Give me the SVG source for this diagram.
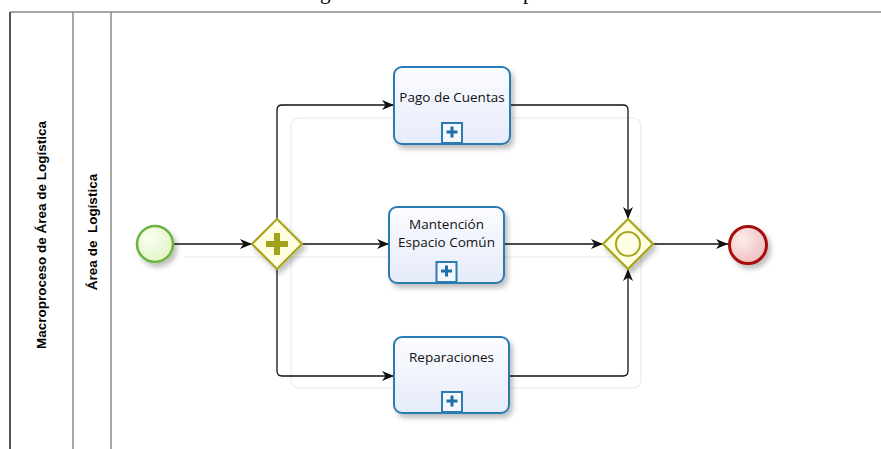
<svg xmlns="http://www.w3.org/2000/svg" width="881" height="449" viewBox="0 0 881 449">
  <style>
    .pool { stroke: #8a8a8a; stroke-width: 1.5; fill: none; }
    .lane-label { font-family: "Liberation Sans", Arial, sans-serif; font-size: 13.5px; font-weight: bold; fill: #000; }
    .task-box { fill: url(#taskFill); stroke: #2c7bb0; stroke-width: 2; filter: url(#shadow); }
    .task-label { font-family: "Open Sans", "Noto Sans", sans-serif; font-size: 13.5px; fill: #111; text-anchor: middle; }
    .marker-box { fill: #f4f7fd; stroke: #2c7bb0; stroke-width: 2; }
    .marker-plus { fill: #1f6fa8; }
    .gateway { fill: #fdfde0; stroke: #a9a41e; stroke-width: 2.2; filter: url(#shadow); }
    .flow { fill: none; stroke: #111; stroke-width: 1.3; marker-end: url(#arrow); }
    .ghost { fill: none; stroke: #f0f0f0; stroke-width: 1.5; }
    .title { font-family: "Liberation Serif", "Times New Roman", serif; font-size: 21px; fill: #000; }
  </style>
  <defs>
    <linearGradient id="taskFill" x1="0" y1="0" x2="0" y2="1">
      <stop offset="0" stop-color="#fbfcff"/>
      <stop offset="1" stop-color="#e6ebfa"/>
    </linearGradient>
    <radialGradient id="startFill" cx="0.35" cy="0.35" r="0.75">
      <stop offset="0" stop-color="#fbfef4"/>
      <stop offset="1" stop-color="#dff5c0"/>
    </radialGradient>
    <radialGradient id="endFill" cx="0.35" cy="0.35" r="0.75">
      <stop offset="0" stop-color="#fcecec"/>
      <stop offset="1" stop-color="#efbcbc"/>
    </radialGradient>
    <filter id="shadow" x="-30%" y="-30%" width="170%" height="170%">
      <feDropShadow dx="3" dy="4" stdDeviation="2.5" flood-color="#000" flood-opacity="0.25"/>
    </filter>
    <marker id="arrow" viewBox="0 0 12 10" refX="12" refY="5" markerWidth="12" markerHeight="10" markerUnits="userSpaceOnUse" orient="auto">
      <path d="M0,0 L12,5 L0,10 L3.5,5 z" fill="#111"/>
    </marker>
  </defs>

  <rect width="881" height="449" fill="#fff"/>

  <!-- title above the pool, clipped by the top edge -->
  <text class="title" x="320" y="-1">g</text>
  <text class="title" x="523" y="-1">p</text>

  <!-- pool and lane frame -->
  <g id="pool">
    <line class="pool" x1="10" y1="12" x2="881" y2="12"/>
    <line x1="10" y1="12" x2="10" y2="449" stroke="#555" stroke-width="2"/>
    <line class="pool" x1="73" y1="12" x2="73" y2="449"/>
    <line class="pool" x1="111" y1="12" x2="111" y2="449"/>
    <text class="lane-label" transform="translate(46,235) rotate(-90)" text-anchor="middle">Macroproceso de Área de Logística</text>
    <text class="lane-label" transform="translate(97,232) rotate(-90)" text-anchor="middle" xml:space="preserve">Área de  Logística</text>
  </g>

  <!-- faint background traces -->
  <g id="traces">
    <rect class="ghost" x="291" y="118" width="350" height="270" rx="8"/>
    <line class="ghost" x1="185" y1="257" x2="640" y2="257"/>
  </g>

  <!-- sequence flows -->
  <g id="connectors">
    <path class="flow" d="M174,244 H252"/>
    <path class="flow" d="M277,220 V110 Q277,105 282,105 H394"/>
    <path class="flow" d="M302,244 H389"/>
    <path class="flow" d="M277,268 V371 Q277,376 282,376 H394"/>
    <path class="flow" d="M510,105 H623 Q628,105 628,110 V219"/>
    <path class="flow" d="M504,244 H603"/>
    <path class="flow" d="M509,376 H623 Q628,376 628,371 V269"/>
    <path class="flow" d="M653,244 H728"/>
  </g>

  <g id="start">
    <circle cx="155" cy="244" r="18" fill="url(#startFill)" stroke="#6db33f" stroke-width="2.5" filter="url(#shadow)"/>
  </g>

  <g id="split">
    <polygon class="gateway" points="277,219 302,244 277,269 252,244"/>
    <path d="M274,233 h6 v8 h8 v6 h-8 v8 h-6 v-8 h-8 v-6 h8 z" fill="#a3a01c"/>
  </g>

  <g id="task-pago">
    <rect class="task-box" x="394" y="67" width="116" height="77" rx="8"/>
    <text class="task-label" x="452" y="102">Pago de Cuentas</text>
    <rect class="marker-box" x="442" y="123" width="20" height="20"/>
    <path class="marker-plus" d="M450.5,126.5 h3 v4 h4 v3 h-4 v4 h-3 v-4 h-4 v-3 h4 z"/>
  </g>

  <g id="task-mantencion">
    <rect class="task-box" x="389" y="207" width="115" height="76" rx="8"/>
    <text class="task-label" x="446.5" y="229">Mantención</text>
    <text class="task-label" x="446.5" y="247">Espacio Común</text>
    <rect class="marker-box" x="436.5" y="262" width="20" height="20"/>
    <path class="marker-plus" d="M445,265.5 h3 v4 h4 v3 h-4 v4 h-3 v-4 h-4 v-3 h4 z"/>
  </g>

  <g id="task-reparaciones">
    <rect class="task-box" x="394" y="337" width="115" height="76" rx="8"/>
    <text class="task-label" x="451.5" y="362">Reparaciones</text>
    <rect class="marker-box" x="442" y="392" width="20" height="20"/>
    <path class="marker-plus" d="M450.5,395.5 h3 v4 h4 v3 h-4 v4 h-3 v-4 h-4 v-3 h4 z"/>
  </g>

  <g id="join">
    <polygon class="gateway" points="628,219 653,244 628,269 603,244"/>
    <circle cx="628" cy="244" r="12" fill="#fefee6" stroke="#a9a41e" stroke-width="2"/>
  </g>

  <g id="end">
    <circle cx="748" cy="245" r="18.5" fill="url(#endFill)" stroke="#a8100f" stroke-width="3" filter="url(#shadow)"/>
  </g>
</svg>
